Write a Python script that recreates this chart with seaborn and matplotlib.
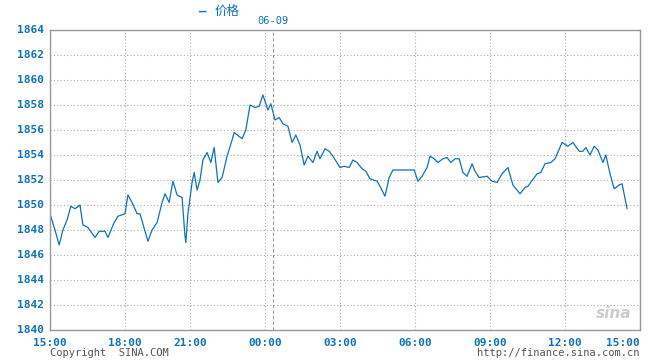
import pandas as pd
import numpy as np
import matplotlib.pyplot as plt
import seaborn as sns

# session minutes since 15:00 (the 18:00-21:00 block is compressed on the source chart)
minutes = [0, 12, 22, 31, 41, 50, 60, 72, 79, 91, 108, 118, 132, 139, 154, 163, 180, 187, 197, 209,
           216, 235, 245, 257, 269, 276, 286, 295, 305, 317, 324, 326, 331, 341, 346, 353, 360, 367, 377, 386,
           394, 403, 413, 425, 437, 442, 461, 470, 480, 492, 502, 511, 523, 530, 540, 550, 559, 571, 581, 590,
           600, 610, 619, 631, 641, 648, 660, 670, 679, 696, 706, 718, 727, 737, 749, 758, 768, 785, 792, 804,
           814, 823, 874, 883, 893, 905, 912, 922, 931, 943, 953, 962, 972, 982, 991, 1001, 1013, 1020, 1030, 1049,
           1061, 1073, 1085, 1099, 1111, 1128, 1140, 1147, 1169, 1178, 1188, 1202, 1212, 1229, 1243, 1255, 1270, 1279, 1286, 1296,
           1306, 1315, 1327, 1334, 1344, 1354, 1366, 1373, 1385]
price = [1849.3, 1848.0, 1846.8, 1848.0, 1848.8, 1849.9, 1849.7, 1850.0, 1848.4, 1848.2, 1847.4, 1847.9, 1847.9, 1847.4, 1848.6, 1849.1, 1849.3, 1850.8, 1850.2, 1849.3,
         1849.3, 1847.1, 1848.0, 1848.6, 1850.2, 1850.9, 1850.2, 1851.9, 1850.8, 1850.6, 1847.5, 1847.0, 1849.3, 1851.8, 1852.6, 1851.2, 1852.0, 1853.6, 1854.2, 1853.4,
         1854.6, 1851.8, 1852.2, 1853.9, 1855.2, 1855.8, 1855.3, 1856.0, 1858.0, 1857.8, 1857.9, 1858.8, 1857.6, 1858.1, 1856.8, 1857.0, 1856.5, 1856.3, 1855.0, 1855.6,
         1854.8, 1853.2, 1853.9, 1853.4, 1854.3, 1853.7, 1854.5, 1854.3, 1853.9, 1853.0, 1853.1, 1853.0, 1853.6, 1853.4, 1852.9, 1852.7, 1852.1, 1851.9, 1851.5, 1850.7,
         1852.2, 1852.8, 1852.8, 1851.9, 1852.3, 1853.0, 1853.9, 1853.7, 1853.4, 1853.7, 1853.8, 1853.4, 1853.7, 1853.7, 1852.6, 1852.3, 1853.3, 1852.7, 1852.2, 1852.3,
         1851.9, 1851.8, 1852.5, 1853.0, 1851.6, 1850.9, 1851.4, 1851.5, 1852.5, 1852.6, 1853.3, 1853.4, 1853.7, 1855.0, 1854.7, 1855.0, 1854.3, 1854.3, 1854.6, 1854.0,
         1854.7, 1854.4, 1853.4, 1854.0, 1852.5, 1851.3, 1851.6, 1851.7, 1849.7]

tick_pos = [0, 180, 336, 516, 696, 876, 1056, 1236, 1416]
tick_labels = ["15:00", "18:00", "21:00", "00:00", "03:00", "06:00", "09:00", "12:00", "15:00"]
y_ticks = list(range(1840, 1866, 2))
day_break = 535
day_label = "06-09"

blue = "#0f72b8"
grid_c = "#aaaaaa"

sns.set_style("white")
plt.rcParams['font.family'] = ['DejaVu Sans Mono', 'Noto Sans CJK SC']

fig = plt.figure(figsize=(6.6, 3.6), dpi=100)
ax = fig.add_axes([50 / 660, 30 / 360, 590 / 660, 300 / 360])

df = pd.DataFrame({"minute": minutes, "price": price})
sns.lineplot(data=df, x="minute", y="price", ax=ax, color=blue, linewidth=0.9)

ax.set_xlim(0, 1416)
ax.set_ylim(1840, 1864)
ax.set_xticks(tick_pos)
ax.set_xticklabels(tick_labels)
ax.set_yticks(y_ticks)
ax.set_xlabel("")
ax.set_ylabel("")
ax.tick_params(axis="both", length=0, labelsize=8, labelcolor=blue)
ax.tick_params(axis="y", pad=4)
ax.tick_params(axis="x", pad=6)
for t in ax.get_xticklabels():
    t.set_fontweight("bold")
ax.get_xticklabels()[-1].set_horizontalalignment("right")
for t in ax.get_yticklabels():
    t.set_fontweight("bold")
    t.set_verticalalignment("center")
ax.grid(True, color=grid_c, linestyle=(0, (1, 2)), linewidth=0.8)
ax.axvline(day_break, color="#999999", linestyle=(0, (3, 2)), linewidth=0.8)
for s in ax.spines.values():
    s.set_color("#999999")
    s.set_linewidth(1.0)

# legend and date label on top
fig.text(199 / 660, 1 - 11 / 360, "\u2014", color=blue, fontsize=9, fontweight="bold", va="center")
fig.text(215 / 660, 1 - 11 / 360, "价格", color=blue, fontsize=9, va="center",
         family=['Noto Sans CJK SC', 'DejaVu Sans'])
ax.text(day_break, 1864.35, day_label, color=blue, fontsize=7.5, ha="center", va="bottom")

fig.text(50 / 660, 1 - 353 / 360, "Copyright  SINA.COM", color="#555555", fontsize=7.5, va="center")
fig.text(640 / 660, 1 - 353 / 360, "http://finance.sina.com.cn", color="#555555", fontsize=7.5,
         va="center", ha="right")
ax.text(0.985, 0.03, "sina", transform=ax.transAxes, color="#cccccc", fontsize=11,
        fontstyle="italic", fontweight="bold", ha="right", va="bottom", family="DejaVu Sans")

fig.savefig("out.png", dpi=100)
